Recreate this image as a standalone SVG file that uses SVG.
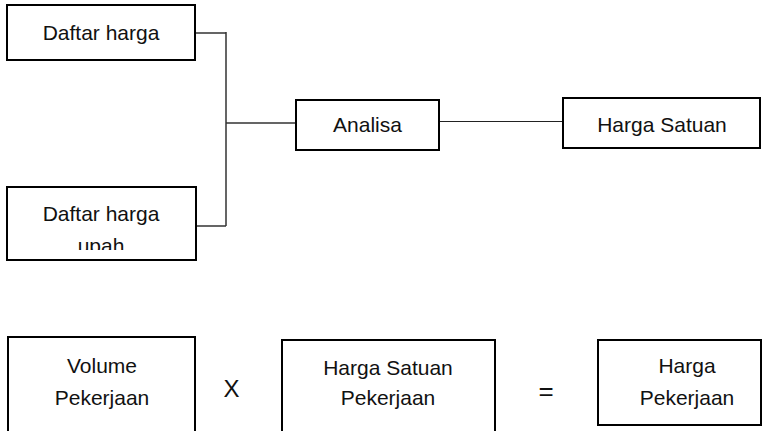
<svg xmlns="http://www.w3.org/2000/svg" width="762" height="431" viewBox="0 0 762 431">
  <style>
    .box { fill: #ffffff; stroke: #000000; stroke-width: 2; }
    .wire { fill: none; stroke: #333333; stroke-width: 1.5; }
    .wire-thin { fill: none; stroke: #222222; stroke-width: 1.2; }
    text { font-family: "Liberation Sans", Arial, sans-serif; font-size: 21px; fill: #111111; text-anchor: middle; }
    .op { font-size: 24px; }
  </style>
  <defs>
    <clipPath id="clip-upah">
      <rect x="8" y="188" width="187" height="62"/>
    </clipPath>
  </defs>
  <rect width="762" height="431" fill="#ffffff"/>

  <!-- connectors -->
  <g id="connectors">
    <path class="wire" d="M195 33 H226 M195 226 H226 M226 32 V226 M226 123 H296"/>
    <path class="wire-thin" d="M439 121.5 H563"/>
  </g>

  <g id="daftar-harga">
    <rect class="box" x="7" y="5" width="188" height="55"/>
    <text x="101" y="40">Daftar harga</text>
  </g>

  <g id="daftar-harga-upah">
    <rect class="box" x="7" y="187" width="189" height="73"/>
    <g clip-path="url(#clip-upah)">
      <text x="101" y="221">Daftar harga</text>
      <text x="101" y="253">upah</text>
    </g>
  </g>

  <g id="analisa">
    <rect class="box" x="296" y="100" width="143" height="50"/>
    <text x="367.5" y="132">Analisa</text>
  </g>

  <g id="harga-satuan">
    <rect class="box" x="563" y="98" width="197" height="50"/>
    <text x="662" y="132">Harga Satuan</text>
  </g>

  <g id="volume-pekerjaan">
    <rect class="box" x="8" y="337" width="187" height="100"/>
    <text x="102" y="373">Volume</text>
    <text x="102" y="405">Pekerjaan</text>
  </g>

  <g id="kali">
    <text class="op" x="231.5" y="397">X</text>
  </g>

  <g id="harga-satuan-pekerjaan">
    <rect class="box" x="282" y="340" width="213" height="100"/>
    <text x="388" y="375">Harga Satuan</text>
    <text x="388" y="405">Pekerjaan</text>
  </g>

  <g id="sama-dengan">
    <text class="op" x="546" y="400" style="font-size:26px">=</text>
  </g>

  <g id="harga-pekerjaan">
    <rect class="box" x="598" y="340" width="163" height="85"/>
    <text x="687" y="373">Harga</text>
    <text x="687" y="405">Pekerjaan</text>
  </g>
</svg>
